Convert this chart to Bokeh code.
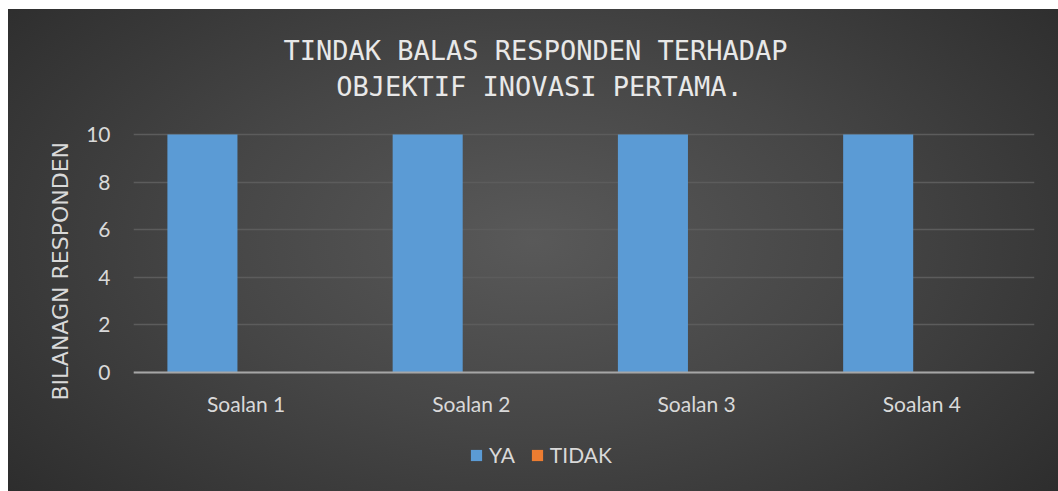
from bokeh.plotting import figure
from bokeh.models import Range1d, FixedTicker, Legend, LegendItem, Title, Label, Span, ColumnDataSource
from bokeh.transform import dodge
from bokeh.core.properties import value
from bokeh.embed import file_html
from bokeh.resources import INLINE

categories = ["Soalan 1", "Soalan 2", "Soalan 3", "Soalan 4"]
ya_values = [10, 10, 10, 10]
tidak_values = [0, 0, 0, 0]
y_ticks = [0, 2, 4, 6, 8, 10]
title_lines = ["TINDAK BALAS RESPONDEN TERHADAP", "OBJEKTIF INOVASI PERTAMA."]
y_label = "BILANAGN RESPONDEN"
series_names = ["YA", "TIDAK"]

p = figure(width=1058, height=491, x_range=categories, y_range=Range1d(-5.0, 15.63),
           output_backend="svg", toolbar_location=None, title=None, x_axis_location=None,
           min_border_left=133, min_border_right=24, min_border_top=0, min_border_bottom=0)
p.styles = {"background": "radial-gradient(ellipse 68% 85% at 50% 48%, #595959 0%, #464646 45%, #2b2b2b 100%) 8px 9px / 1050px 482px no-repeat, #ffffff"}
p.background_fill_color = None
p.border_fill_color = None
p.outline_line_color = None

src = ColumnDataSource(dict(cat=categories, ya=ya_values, tidak=tidak_values))
r_ya = p.vbar(x=dodge("cat", -0.194, range=p.x_range), top="ya", width=0.311,
              source=src, fill_color="#5b9bd5", line_color=None)
r_ti = p.vbar(x=dodge("cat", 0.194, range=p.x_range), top="tidak", width=0.311,
              source=src, fill_color="#ed7d31", line_color=None)

p.ygrid.ticker = FixedTicker(ticks=y_ticks)
p.ygrid.grid_line_color = "#5c5c5c"
p.ygrid.grid_line_width = 1.5
p.xgrid.grid_line_color = None

# category axis baseline
p.add_layout(Span(location=0, dimension="width", line_color="#a6a6a6", line_width=2))

# category labels
p.text(x="cat", y=0, text="cat", source=src, y_offset=31,
       text_align="center", text_baseline="alphabetic",
       text_font=value("Lato"), text_font_size="21px", text_color="#d9d9d9")

p.yaxis.ticker = FixedTicker(ticks=y_ticks)
p.yaxis.axis_line_color = None
p.yaxis.major_tick_line_color = None
p.yaxis.minor_tick_line_color = None
p.yaxis.major_tick_out = 0
p.yaxis.major_tick_in = 0
p.yaxis.major_label_standoff = 23
p.yaxis.major_label_text_font = "Lato"
p.yaxis.major_label_text_font_size = "21px"
p.yaxis.major_label_text_color = "#d9d9d9"

p.add_layout(Title(text=y_label, align="left", offset=91,
                   text_font="DejaVu Sans", text_font_size="22px",
                   text_font_style="normal", text_color="#d9d9d9",
                   standoff=22), "left")

for line, xs, ys in [(title_lines[0], 402, 441), (title_lines[1], 406, 405)]:
    p.add_layout(Label(x=xs, y=ys, x_units="screen", y_units="screen", text=line,
                       text_align="center", text_baseline="alphabetic",
                       text_font="DejaVu Sans Mono", text_font_size="27px",
                       text_color="#e8e8e8"))

legend = Legend(items=[LegendItem(label=series_names[0], renderers=[r_ya]),
                       LegendItem(label=series_names[1], renderers=[r_ti])],
                location=(336, 24), orientation="horizontal",
                background_fill_alpha=0, border_line_color=None,
                padding=0, margin=0, spacing=15, label_standoff=6,
                glyph_width=14, glyph_height=14,
                label_text_font="Lato", label_text_font_size="21px",
                label_text_color="#d9d9d9")
p.add_layout(legend)

open("out.html", "w").write(file_html(p, INLINE))
